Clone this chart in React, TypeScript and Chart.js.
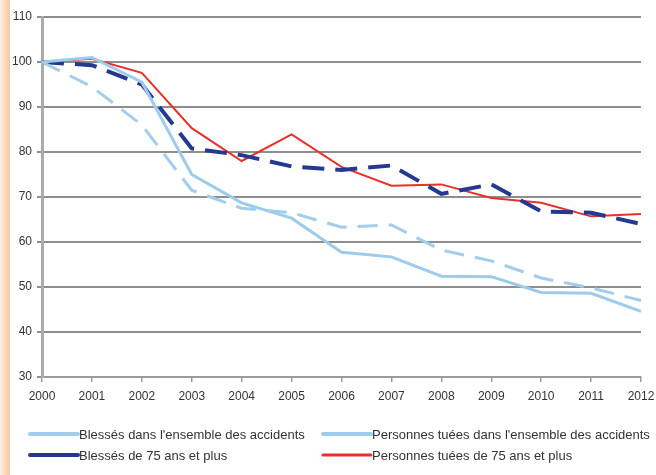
import React, { useEffect, useRef } from "react";
import { Chart, registerables } from "chart.js";

Chart.register(...registerables);

const years = ["2000", "2001", "2002", "2003", "2004", "2005", "2006", "2007", "2008", "2009", "2010", "2011", "2012"];
const blessesEnsemble = [100, 94.5, 86, 71.5, 67.5, 66.5, 63.3, 63.8, 58.2, 55.8, 52, 49.8, 47];
const tuesEnsemble = [100, 101, 95.5, 75, 68.7, 65.3, 57.7, 56.7, 52.4, 52.3, 48.8, 48.6, 44.6];
const blesses75 = [100, 99.3, 95, 80.8, 79.3, 76.8, 76, 77, 70.7, 72.8, 66.8, 66.5, 64];
const tues75 = [100, 100.7, 97.6, 85.3, 78, 83.9, 76.7, 72.5, 72.8, 69.8, 68.7, 65.7, 66.2];
const seriesLabels = [
  "Blessés dans l'ensemble des accidents",
  "Personnes tuées dans l'ensemble des accidents",
  "Blessés de 75 ans et plus",
  "Personnes tuées de 75 ans et plus",
];

const FONT = "'Liberation Sans', Arial, sans-serif";

const legendPlugin = {
  id: "gridLegend",
  afterDraw(chart: any) {
    const ctx = chart.ctx;
    const cols = [30, 323];
    const rows = [434, 455];
    const lineLen = 48;
    ctx.save();
    ctx.font = `13px ${FONT}`;
    ctx.textBaseline = "middle";
    chart.data.datasets.forEach((ds: any, i: number) => {
      const x = cols[i % 2];
      const y = rows[Math.floor(i / 2)];
      ctx.beginPath();
      ctx.setLineDash([]);
      ctx.strokeStyle = ds.borderColor;
      ctx.lineWidth = ds.legendWidth || 4;
      ctx.lineCap = "round";
      ctx.moveTo(x, y);
      ctx.lineTo(x + lineLen, y);
      ctx.stroke();
      ctx.fillStyle = "#333";
      ctx.fillText(ds.label, x + lineLen + 1, y + 1);
    });
    ctx.restore();
  },
};

export default function App() {
  const ref = useRef<HTMLCanvasElement | null>(null);
  useEffect(() => {
    if (!ref.current) return;
    const chart = new Chart(ref.current, {
      type: "line",
      data: {
        labels: years,
        datasets: [
          {
            label: seriesLabels[0],
            data: blessesEnsemble,
            borderColor: "#a3cdec",
            borderWidth: 3,
            borderDash: [20, 11],
            pointRadius: 0,
            tension: 0,
            legendWidth: 4,
          } as any,
          {
            label: seriesLabels[1],
            data: tuesEnsemble,
            borderColor: "#9ccbeb",
            borderWidth: 3,
            pointRadius: 0,
            tension: 0,
            legendWidth: 4,
          } as any,
          {
            label: seriesLabels[2],
            data: blesses75,
            borderColor: "#24398f",
            borderWidth: 4,
            borderDash: [22, 11],
            pointRadius: 0,
            tension: 0,
            legendWidth: 4,
          } as any,
          {
            label: seriesLabels[3],
            data: tues75,
            borderColor: "#e8302a",
            borderWidth: 2,
            pointRadius: 0,
            tension: 0,
            legendWidth: 3,
          } as any,
        ],
      },
      options: {
        animation: false,
        responsive: false,
        maintainAspectRatio: false,
        layout: { padding: { left: 0, right: 15, top: 17, bottom: 68 } },
        plugins: {
          legend: { display: false },
          tooltip: { enabled: false },
        },
        scales: {
          x: {
            type: "category",
            offset: false,
            afterFit: (s: any) => {
              s.height = 30;
              s.paddingLeft = 0;
              s.paddingRight = 0;
            },
            grid: {
              drawOnChartArea: false,
              drawTicks: true,
              tickLength: 5,
              color: "#9a9a9a",
              lineWidth: 1.5,
            },
            border: { display: true, color: "#9a9a9a", width: 2 },
            ticks: {
              color: "#333",
              padding: 7,
              maxRotation: 0,
              autoSkip: false,
              font: { family: FONT, size: 12 },
            },
          },
          y: {
            min: 30,
            max: 110,
            afterFit: (s: any) => {
              s.width = 42;
            },
            grid: {
              color: "#8e8e8e",
              lineWidth: 2,
              drawTicks: true,
              tickLength: 5,
            },
            border: { display: true, color: "#ababab", width: 3 },
            ticks: {
              stepSize: 10,
              color: "#333",
              padding: 5,
              font: { family: FONT, size: 12 },
            },
          },
        },
      },
      plugins: [legendPlugin],
    });
    return () => chart.destroy();
  }, []);

  return (
    <div style={{ position: "fixed", left: 0, top: 0, width: 656, height: 475, background: "#fff" }}>
      <div
        style={{
          position: "absolute",
          left: 0,
          top: 0,
          width: 10,
          height: 475,
          background: "linear-gradient(to right, #fdf0e2, #f4c89b)",
        }}
      />
      <canvas ref={ref} width={656} height={475} style={{ position: "absolute", left: 0, top: 0 }} />
    </div>
  );
}
